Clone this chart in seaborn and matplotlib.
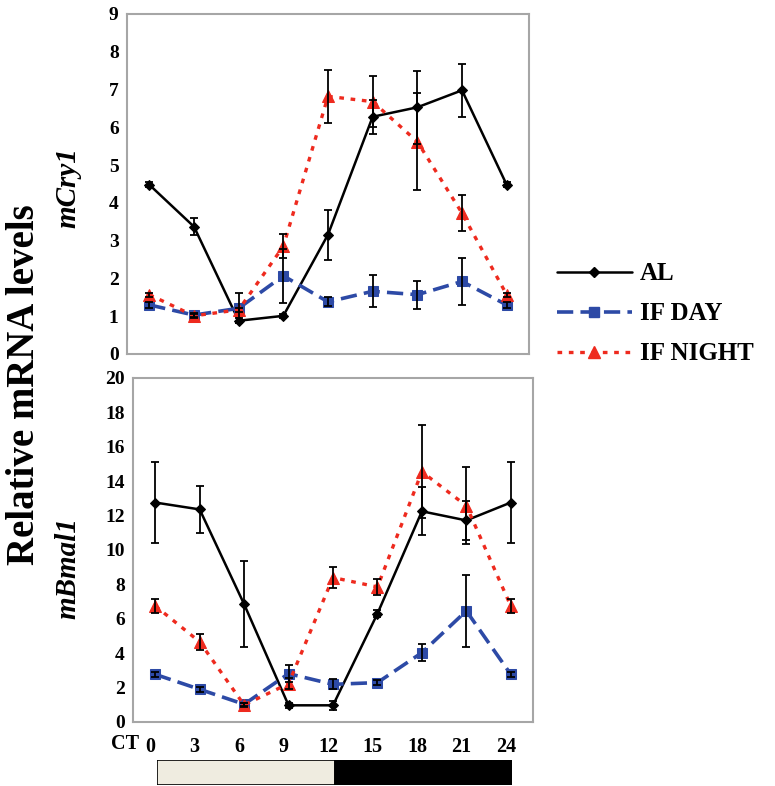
import numpy as np
import pandas as pd
import matplotlib
matplotlib.use("Agg")
import matplotlib.pyplot as plt
import matplotlib.transforms as mtransforms
from matplotlib.lines import Line2D
import seaborn as sns

# ---------------- data ----------------
ct = [0, 3, 6, 9, 12, 15, 18, 21, 24]
ct_labels = ["0", "3", "6", "9", "12", "15", "18", "21", "24"]
groups = ["AL", "IF DAY", "IF NIGHT"]

cry_al = [4.48, 3.37, 0.88, 1.01, 3.16, 6.28, 6.53, 6.98, 4.48]
cry_al_err = [0.06, 0.23, 0.06, 0.05, 0.66, 0.45, 0.97, 0.70, 0.06]
cry_day = [1.30, 1.03, 1.21, 2.07, 1.38, 1.66, 1.57, 1.92, 1.30]
cry_day_err = [0.08, 0.05, 0.40, 0.72, 0.12, 0.42, 0.37, 0.63, 0.08]
cry_night = [1.57, 1.01, 1.17, 2.85, 6.82, 6.68, 5.62, 3.73, 1.57]
cry_night_err = [0.05, 0.05, 0.05, 0.32, 0.70, 0.68, 1.28, 0.48, 0.05]

bmal_al = [12.76, 12.36, 6.85, 0.97, 0.97, 6.30, 12.25, 11.72, 12.76]
bmal_al_err = [2.35, 1.37, 2.50, 0.15, 0.25, 0.20, 1.40, 1.15, 2.35]
bmal_day = [2.77, 1.90, 1.03, 2.81, 2.19, 2.29, 4.03, 6.46, 2.77]
bmal_day_err = [0.15, 0.15, 0.10, 0.50, 0.30, 0.15, 0.50, 2.10, 0.15]
bmal_night = [6.75, 4.66, 0.99, 2.23, 8.40, 7.85, 14.55, 12.57, 6.75]
bmal_night_err = [0.42, 0.45, 0.10, 0.30, 0.60, 0.45, 2.70, 2.25, 0.42]

light_start = [0, 12]
light_width = [12, 12]
light_colors = ["#efece0", "#000000"]

# ---------------- style ----------------
sns.set_style("white")
plt.rcParams["font.family"] = ["Liberation Serif", "DejaVu Serif"]
plt.rcParams["font.weight"] = "bold"
plt.rcParams["text.color"] = "black"
plt.rcParams["axes.labelcolor"] = "black"

W, H = 775, 786
fig = plt.figure(figsize=(W / 100, H / 100), dpi=100)


def ax_rect(l, t, r, b):
    return [l / W, 1 - b / H, (r - l) / W, (b - t) / H]


palette = {"AL": "#000000", "IF DAY": "#2d4aa6", "IF NIGHT": "#ee2a1e"}
markers = {"AL": "D", "IF DAY": "s", "IF NIGHT": "^"}
dashes = {"AL": "", "IF DAY": (4.5, 2), "IF NIGHT": (1.4, 2.0)}
lws = {"AL": 1.8, "IF DAY": 2.6, "IF NIGHT": 2.4}
msz = {"AL": 5.5, "IF DAY": 7, "IF NIGHT": 8}
grey = "#a6a6a6"


def make_df(al, day, night):
    return pd.DataFrame({
        "CT": ct * 3,
        "val": al + day + night,
        "group": ["AL"] * 9 + ["IF DAY"] * 9 + ["IF NIGHT"] * 9,
    })


def draw_panel(ax, series, errs, ymax, ystep):
    df = make_df(*series)
    for g in groups:
        sub = df[df["group"] == g]
        sns.lineplot(data=sub, x="CT", y="val", ax=ax, color=palette[g],
                     marker=markers[g], markersize=msz[g],
                     markeredgecolor=palette[g], linewidth=lws[g],
                     legend=False, zorder=3)
        if dashes[g]:
            ax.lines[-1].set_dashes(dashes[g])
    for g, vals, e in zip(groups, series, errs):
        ax.errorbar(ct, vals, yerr=e, fmt="none", ecolor="black",
                    elinewidth=1.3, capsize=3, capthick=1.3, zorder=4)
    ax.set_xlim(-1.5, 25.5)
    ax.set_ylim(0, ymax)
    ax.set_yticks(np.arange(0, ymax + 0.01, ystep))
    ax.set_xticks(np.arange(-1.5, 25.6, 3))
    ax.set_xticklabels([])
    ax.set_xlabel("")
    ax.set_ylabel("")
    for s in ax.spines.values():
        s.set_color(grey)
        s.set_linewidth(1.5)
    ax.tick_params(axis="both", which="major", direction="out", length=4,
                   width=1, color=grey, labelcolor="black", labelsize=14,
                   pad=2)
    for lab in ax.get_yticklabels():
        lab.set_fontweight("bold")


ax1 = fig.add_axes(ax_rect(127, 14, 529, 354))
draw_panel(ax1, (cry_al, cry_day, cry_night),
           (cry_al_err, cry_day_err, cry_night_err), 9, 1)

ax2 = fig.add_axes(ax_rect(133, 378, 533, 722))
draw_panel(ax2, (bmal_al, bmal_day, bmal_night),
           (bmal_al_err, bmal_day_err, bmal_night_err), 20, 2)
ax2.set_xticks(ct, minor=True)
ax2.set_xticklabels(ct_labels, minor=True)
ax2.tick_params(axis="x", which="minor", length=0, pad=11, labelsize=14.5,
                labelcolor="black")
off = mtransforms.ScaledTranslation(-5 / 100, 0, fig.dpi_scale_trans)
for lab in ax2.get_xticklabels(minor=True):
    lab.set_fontweight("bold")
    lab.set_transform(lab.get_transform() + off)

fig.text(139 / W, 1 - 744 / H, "CT", ha="right", va="center",
         fontsize=14.5, fontweight="bold")

# light/dark bar
ax3 = fig.add_axes(ax_rect(157, 760, 512, 785))
ax3.barh([0, 0], light_width, left=light_start, color=light_colors,
         edgecolor="black", linewidth=1.2, height=1.0)
ax3.set_xlim(0, 24)
ax3.set_ylim(-0.5, 0.5)
ax3.axis("off")

# y labels
fig.text(25 / W, 1 - 385 / H, "Relative mRNA levels", rotation=90,
         ha="center", va="center", fontsize=28, fontweight="bold")
fig.text(68 / W, 1 - 188 / H, "mCry1", rotation=90, ha="center",
         va="center", fontsize=21, fontweight="bold", style="italic")
fig.text(68 / W, 1 - 568 / H, "mBmal1", rotation=90, ha="center",
         va="center", fontsize=21, fontweight="bold", style="italic")

# legend
handles = [Line2D([0], [0], color=palette[g], marker=markers[g],
                  markersize=msz[g], linewidth=lws[g],
                  linestyle="-" if not dashes[g] else (0, dashes[g]))
           for g in groups]
fig.legend(handles, groups, loc="upper left",
           bbox_to_anchor=(544 / W, 1 - 250 / H), frameon=False,
           prop={"family": "Liberation Serif", "weight": "bold", "size": 18},
           handlelength=3.0, labelspacing=0.68, handletextpad=0.35,
           borderpad=0)

fig.savefig("out.png", dpi=100)
